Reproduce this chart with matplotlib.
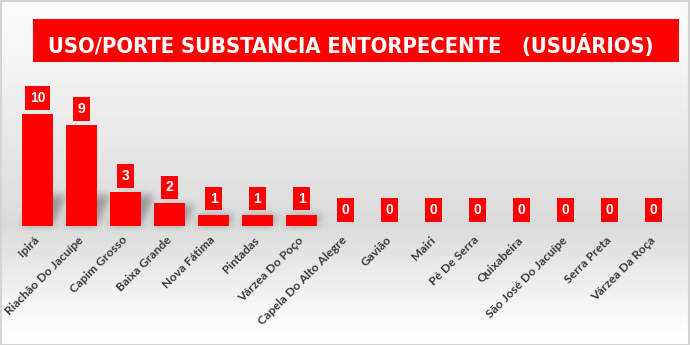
import numpy as np
import matplotlib
matplotlib.use("Agg")
import matplotlib.pyplot as plt
from matplotlib.patches import Rectangle
from matplotlib import font_manager as fm

categories = ["Ipirá", "Riachão Do Jacuípe", "Capim Grosso", "Baixa Grande",
              "Nova Fátima", "Pintadas", "Várzea Do Poço", "Capela Do Alto Alegre",
              "Gavião", "Mairi", "Pé De Serra", "Quixabeira", "São José Do Jacuípe",
              "Serra Preta", "Várzea Da Roça"]
values = [10, 9, 3, 2, 1, 1, 1, 0, 0, 0, 0, 0, 0, 0, 0]
title = "USO/PORTE SUBSTANCIA ENTORPECENTE   (USUÁRIOS)"

# pick a condensed bold font if one is installed, else Lato bold
cond = None
for f in fm.fontManager.ttflist:
    nm = (f.name + " " + f.fname).lower()
    if ("condensed" in nm or "narrow" in nm or str(f.stretch) in ("condensed", "semi-condensed")) \
            and str(f.weight) in ("bold", "700") and "oblique" not in nm and "italic" not in nm:
        cond = f.fname
        break
if cond:
    title_fp = fm.FontProperties(fname=cond)
else:
    title_fp = fm.FontProperties(family="Lato", weight="bold")
label_fp = fm.FontProperties(family="Lato", weight="bold")

W, H = 690, 345
BAR_W = 0.7
fig = plt.figure(figsize=(W / 100, H / 100), dpi=100)

# plot axes
left, right = 15.5, 675.5
base, top = 225.7, 91.7
ax = fig.add_axes([left / W, (H - base) / H, (right - left) / W, (base - top) / H])
ax.patch.set_alpha(0)
x = np.arange(len(categories))
ax.bar(x, values, width=BAR_W, color="#ff0000", zorder=3)
ax.set_xlim(-0.5, len(categories) - 0.5)
ax.set_ylim(0, 12)
for s in ax.spines.values():
    s.set_visible(False)
ax.set_yticks([])
ax.set_xticks(x)
ax.set_xticklabels(categories, rotation=45, ha="right", va="center",
                   rotation_mode="anchor", color="#3a3a3a",
                   fontproperties=label_fp)
ax.tick_params(axis="x", length=0, pad=9)

# background gradient with soft bar shadows
bg = fig.add_axes([0, 0, 1, 1], zorder=-10)
ys = np.arange(H)
stops_y = [0, 60, 225, 335, 345]
stops_v = [0.985, 0.955, 0.855, 1.0, 1.0]
col = np.interp(ys, stops_y, stops_v)
img = np.repeat(col[:, None], W, axis=1)

shadow = np.zeros((H, W))
for xi, v in zip(x, values):
    if v <= 0:
        continue
    (x0, y0), (x1, y1) = ax.transData.transform([(xi - BAR_W / 2, 0), (xi + BAR_W / 2, v)])
    yb, yt = H - y0, H - y1
    hgt = min((yb - yt) * 0.9, 30)
    for yy in range(int(yb - hgt), int(yb)):
        off = (yb - yy) * 0.45
        shadow[yy, int(x0 + off):int(x1 + off)] = 1.0

def blur(a, sigma):
    k = np.arange(-3 * sigma, 3 * sigma + 1)
    g = np.exp(-k ** 2 / (2 * sigma ** 2))
    g /= g.sum()
    a = np.apply_along_axis(lambda r: np.convolve(r, g, mode="same"), 1, a)
    a = np.apply_along_axis(lambda c: np.convolve(c, g, mode="same"), 0, a)
    return a

shadow = blur(shadow, 4)
img = img - 0.28 * shadow
bg.imshow(img, cmap="gray", vmin=0, vmax=1, aspect="auto", extent=[0, W, H, 0])
bg.set_xlim(0, W)
bg.set_ylim(H, 0)
bg.axis("off")

for xi, v in zip(x, values):
    ax.annotate(str(v), (xi, v), xytext=(0, 11.5), textcoords="offset points",
                ha="center", va="center", color="white", fontsize=10,
                fontweight="bold", family="Liberation Sans", zorder=5,
                bbox=dict(boxstyle="square,pad=0.35", fc="#ff0000", ec="none"))

# title box
fig.patches.append(Rectangle((33 / W, (H - 62) / H), (679 - 33) / W, 43 / H,
                             transform=fig.transFigure, fc="#ff0000", ec="none", zorder=1))
t = fig.text(48 / W, (H - 45) / H, title, ha="left", va="center", color="white",
             fontproperties=title_fp, zorder=2)
t.set_fontsize(24)

fig.canvas.draw()
r = fig.canvas.get_renderer()
w = t.get_window_extent(r).width
t.set_fontsize(24 * 608 / w)
# fit tick label size: "Riachão Do Jacuípe" ~106 px long
tmp = fig.text(0, 0, categories[1], fontproperties=label_fp)
tmp.set_fontsize(10)
lw = tmp.get_window_extent(r).width
tmp.remove()
fs = 10 * 106 / lw
for lab in ax.get_xticklabels():
    lab.set_fontsize(fs)

fig.patches.append(Rectangle((0.5 / W, 0.5 / H), (W - 1.5) / W, (H - 1.5) / H,
                             transform=fig.transFigure, fc="none", ec="#d4d4d4",
                             lw=1.5, zorder=5))

fig.savefig("out.png", dpi=100)
